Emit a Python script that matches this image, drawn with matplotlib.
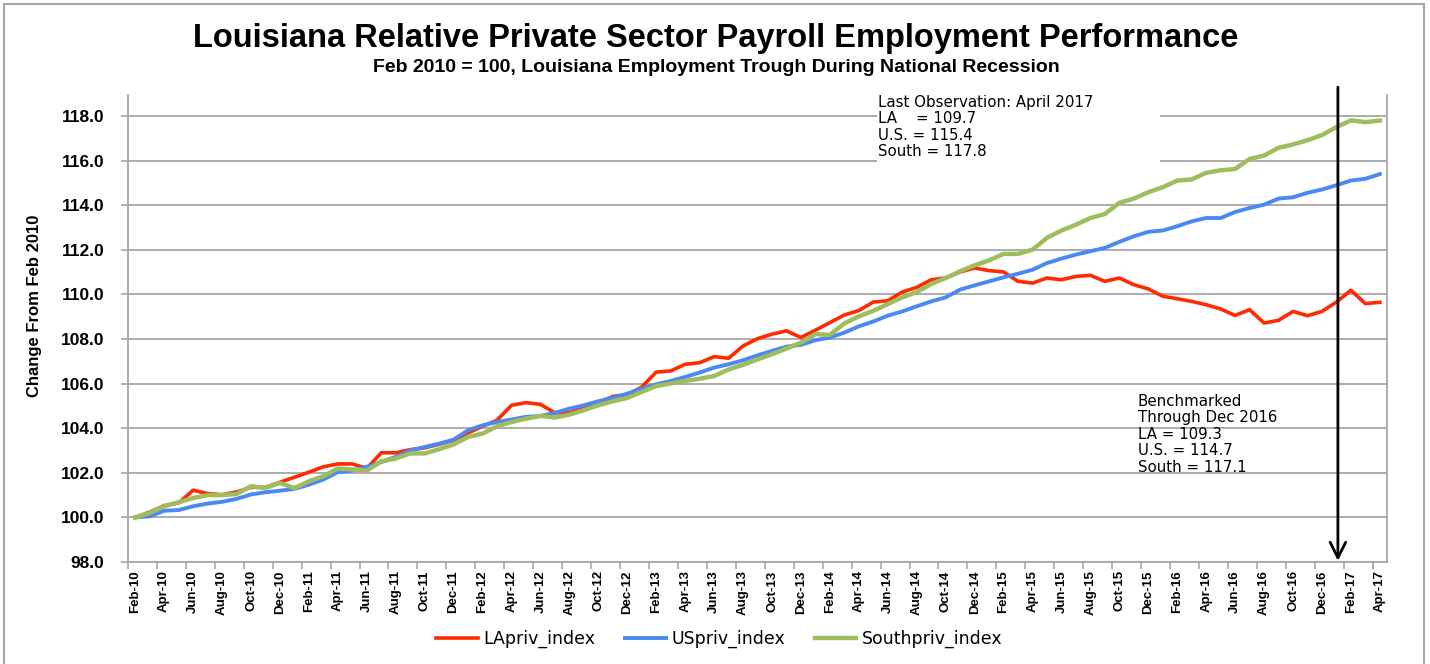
import matplotlib

matplotlib.use("Agg")

import matplotlib.pyplot as plt
import pandas as pd
from matplotlib import font_manager
from matplotlib.patches import Rectangle

# monthly index values, Feb 2010 = 100
la_index = [
    100.00, 100.24, 100.53, 100.65, 101.22, 101.07, 101.02, 101.14, 101.35, 101.35,
    101.58, 101.80, 102.03, 102.27, 102.40, 102.40, 102.20, 102.90, 102.90, 103.04,
    103.12, 103.28, 103.46, 103.79, 104.09, 104.36, 105.03, 105.15, 105.07, 104.69,
    104.69, 104.93, 105.13, 105.43, 105.50, 105.85, 106.52, 106.57, 106.87, 106.94,
    107.21, 107.14, 107.69, 108.02, 108.22, 108.37, 108.07, 108.40, 108.74, 109.08,
    109.28, 109.66, 109.72, 110.11, 110.32, 110.66, 110.74, 111.01, 111.19, 111.07,
    111.01, 110.59, 110.51, 110.74, 110.66, 110.81, 110.86, 110.59, 110.74, 110.44,
    110.25, 109.92, 109.81, 109.69, 109.54, 109.35, 109.06, 109.32, 108.72, 108.84,
    109.24, 109.05, 109.24, 109.66, 110.19, 109.59, 109.65,
]
us_index = [
    100.00, 100.05, 100.30, 100.33, 100.50, 100.62, 100.70, 100.83, 101.03, 101.13,
    101.20, 101.28, 101.47, 101.70, 102.03, 102.10, 102.27, 102.48, 102.72, 103.00,
    103.16, 103.31, 103.49, 103.91, 104.13, 104.28, 104.39, 104.51, 104.55, 104.69,
    104.88, 105.03, 105.21, 105.37, 105.55, 105.78, 105.97, 106.12, 106.30, 106.50,
    106.72, 106.87, 107.05, 107.27, 107.47, 107.66, 107.74, 107.95, 108.07, 108.29,
    108.57, 108.79, 109.05, 109.24, 109.47, 109.69, 109.87, 110.22, 110.41, 110.59,
    110.77, 110.93, 111.11, 111.41, 111.61, 111.79, 111.94, 112.09, 112.36, 112.61,
    112.81, 112.87, 113.06, 113.28, 113.43, 113.43, 113.70, 113.88, 114.03, 114.30,
    114.36, 114.56, 114.71, 114.90, 115.11, 115.19, 115.40,
]
south_index = [
    100.00, 100.20, 100.50, 100.68, 100.87, 101.00, 101.00, 101.05, 101.40, 101.32,
    101.55, 101.32, 101.62, 101.85, 102.20, 102.15, 102.10, 102.52, 102.64, 102.87,
    102.87, 103.06, 103.27, 103.61, 103.76, 104.09, 104.28, 104.43, 104.55, 104.48,
    104.61, 104.81, 105.03, 105.21, 105.36, 105.63, 105.89, 106.01, 106.12, 106.22,
    106.34, 106.64, 106.84, 107.09, 107.32, 107.57, 107.84, 108.22, 108.19, 108.70,
    109.02, 109.27, 109.57, 109.87, 110.11, 110.47, 110.74, 111.04, 111.31, 111.53,
    111.82, 111.82, 112.01, 112.54, 112.87, 113.13, 113.43, 113.61, 114.11, 114.30,
    114.59, 114.81, 115.11, 115.16, 115.46, 115.57, 115.63, 116.08, 116.23, 116.58,
    116.73, 116.92, 117.15, 117.51, 117.81, 117.73, 117.80,
]
months = pd.date_range("2010-02-01", "2017-04-01", freq="MS").strftime("%b-%y").tolist()

series_names = ["LApriv_index", "USpriv_index", "Southpriv_index"]
series_colors = ["#FF2A00", "#4A88F5", "#9EBE5E"]
series_widths = [2.6, 2.8, 3.2]

last_obs_text = "Last Observation: April 2017\nLA    = 109.7\nU.S. = 115.4\nSouth = 117.8"
bench_text = "Benchmarked\nThrough Dec 2016\nLA = 109.3\nU.S. = 114.7\nSouth = 117.1"
bench_x = 83.1  # position of the benchmark arrow, between Dec-16 and Jan-17

names = {f.name for f in font_manager.fontManager.ttflist}
NARROW = "Liberation Sans Narrow" if "Liberation Sans Narrow" in names else "Liberation Sans"
GRID = "#A6A6A6"

fig = plt.figure(figsize=(14.3, 6.64), dpi=100)
ax = fig.add_axes([0.0895, 0.1536, 0.8805, 0.7034])

x = list(range(len(months)))
for vals, name, color, lw in zip([la_index, us_index, south_index], series_names, series_colors, series_widths):
    ax.plot(x, vals, color=color, lw=lw, label=name, solid_joinstyle="round")

ax.set_xlim(-0.5, len(months) - 0.5)
ax.set_ylim(98, 118.95)
ax.set_yticks(range(98, 119, 2))
ax.set_yticklabels([f"{v:.1f}" for v in range(98, 119, 2)], fontsize=12.5, fontweight="bold", family="Liberation Sans")
ax.set_xticks(x[::2])
ax.set_xticklabels(months[::2], rotation=90, fontsize=9.5, fontweight="bold", family=NARROW)
ax.set_xticks([i - 0.5 for i in x[::2]] + [len(months) - 1.5], minor=True)
ax.tick_params(axis="x", which="major", length=0, pad=6)
ax.tick_params(axis="x", which="minor", length=5, color=GRID, width=1.2)
ax.tick_params(axis="y", length=5, color=GRID, width=1.2, pad=12)
ax.grid(axis="y", color=GRID, lw=1.3)
ax.set_axisbelow(True)
for side in ["left", "bottom", "right"]:
    ax.spines[side].set_color(GRID)
    ax.spines[side].set_linewidth(1.3)
ax.spines["top"].set_visible(False)

ax.set_ylabel("Change From Feb 2010", fontsize=12, fontweight="bold", family=NARROW)
ax.yaxis.set_label_coords(-0.068, 0.548)

# white box behind the last-observation note
ax.add_patch(Rectangle((0.595, 0.857), 0.225, 0.143, transform=ax.transAxes, facecolor="white", edgecolor="none", zorder=1))
ax.text(0.596, 1.0, last_obs_text, transform=ax.transAxes, va="top", ha="left", fontsize=10.8, linespacing=1.12, zorder=3)
ax.text(0.802, 0.36, bench_text, transform=ax.transAxes, va="top", ha="left", fontsize=10.8, linespacing=1.12, zorder=3)

ax.annotate(
    "",
    xy=(bench_x, 98.05),
    xytext=(bench_x, 119.3),
    arrowprops=dict(arrowstyle="->", lw=2, color="black", mutation_scale=28, shrinkA=0, shrinkB=0),
    annotation_clip=False,
    zorder=4,
)

fig.text(0.5007, 0.942, "Louisiana Relative Private Sector Payroll Employment Performance",
         ha="center", va="center", fontsize=23.5, fontweight="bold", family="Liberation Sans")
fig.text(0.5007, 0.898, "Feb 2010 = 100, Louisiana Employment Trough During National Recession",
         ha="center", va="center", fontsize=14, fontweight="bold", family="Liberation Sans")

fig.legend(loc="center", bbox_to_anchor=(0.503, 0.0377), ncol=3, frameon=False, fontsize=12.5,
           handlelength=2.4, handletextpad=0.3, columnspacing=1.7)

fig.add_artist(Rectangle((0.0028, -0.01), 0.993, 1.004, transform=fig.transFigure, fill=False,
                         edgecolor=GRID, lw=1.5))

fig.savefig("out.png", dpi=100)
